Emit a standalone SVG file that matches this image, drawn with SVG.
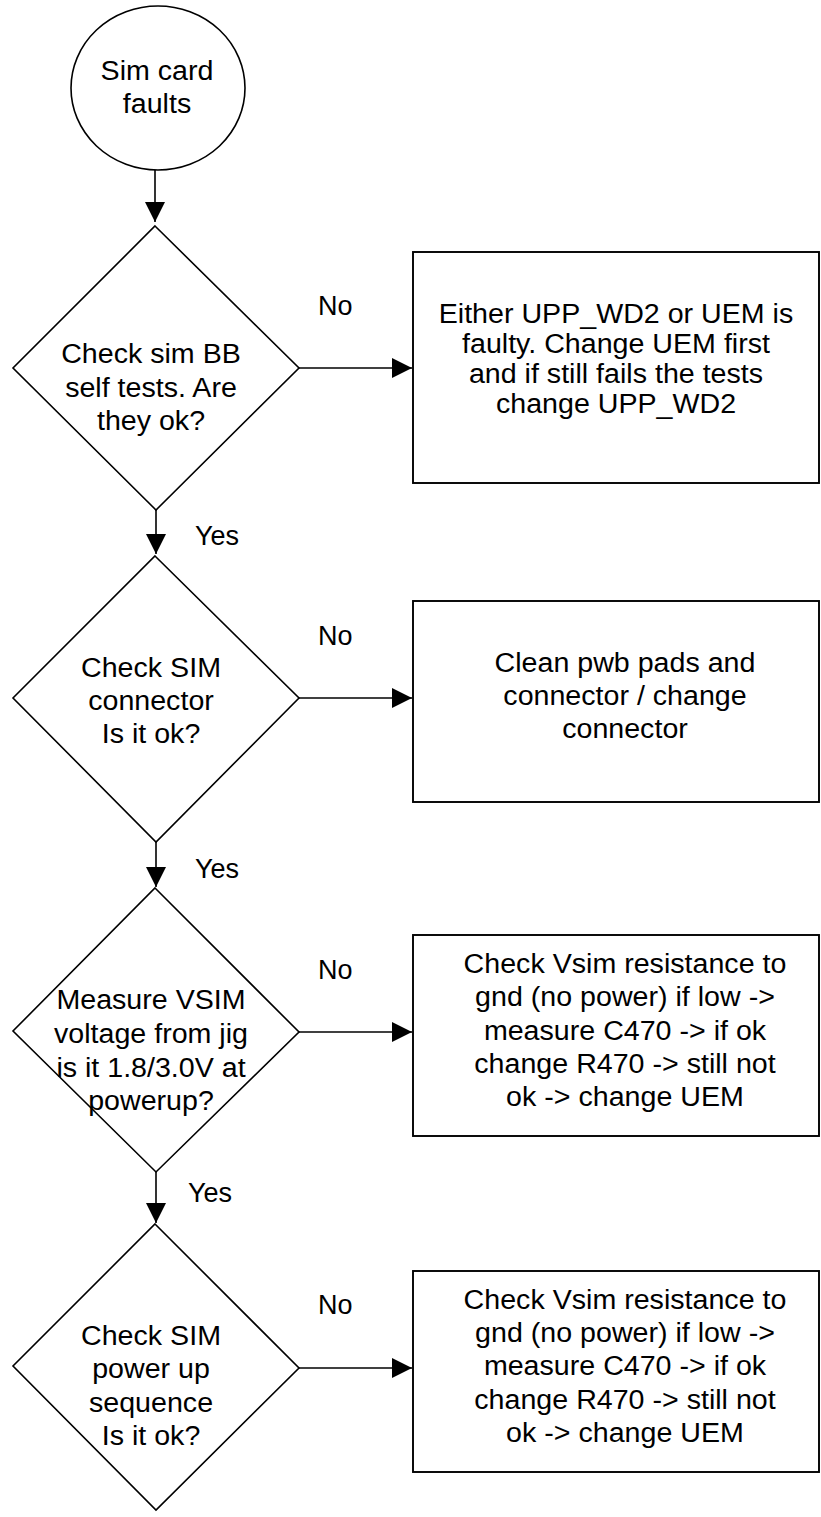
<svg xmlns="http://www.w3.org/2000/svg" width="821" height="1517" viewBox="0 0 821 1517">
<style>
.s{fill:#fff;stroke:#000;stroke-width:1.6}
.b{fill:#fff;stroke:#000;stroke-width:1.9}
.c{fill:none;stroke:#000;stroke-width:1.6}
text{font-family:"Liberation Sans",Arial,sans-serif;font-size:27px;fill:#000}
.m{text-anchor:middle}
</style>
<defs>
<marker id="ah" markerUnits="userSpaceOnUse" markerWidth="21" markerHeight="21" refX="20" refY="10" orient="auto">
<path d="M0,0 L20,10 L0,20 z" fill="#000"/>
</marker>
</defs>
<rect width="821" height="1517" fill="#fff"/>
<g id="start">
<ellipse class="s" cx="158" cy="88" rx="87" ry="82"/>
<text class="m" transform="translate(157,80) scale(1.06,1)">Sim card</text>
<text class="m" transform="translate(157,113) scale(1.06,1)">faults</text>
</g>
<g id="d1">
<polygon class="s" points="155,226 299,368 156,510 13,368"/>
<text class="m" transform="translate(151,363) scale(1.06,1)">Check sim BB</text>
<text class="m" transform="translate(151,396.5) scale(1.06,1)">self tests. Are</text>
<text class="m" transform="translate(151,430) scale(1.06,1)">they ok?</text>
</g>
<g id="b1">
<rect class="b" x="413" y="252" width="406" height="231"/>
<text class="m" transform="translate(616,323) scale(1.06,1)">Either UPP_WD2 or UEM is</text>
<text class="m" transform="translate(616,353) scale(1.06,1)">faulty. Change UEM first</text>
<text class="m" transform="translate(616,383) scale(1.06,1)">and if still fails the tests</text>
<text class="m" transform="translate(616,413) scale(1.06,1)">change UPP_WD2</text>
</g>
<g id="d2">
<polygon class="s" points="155,556 299,698 156,842 13,698"/>
<text class="m" transform="translate(151,677) scale(1.06,1)">Check SIM</text>
<text class="m" transform="translate(151,710) scale(1.06,1)">connector</text>
<text class="m" transform="translate(151,743) scale(1.06,1)">Is it ok?</text>
</g>
<g id="b2">
<rect class="b" x="413" y="601" width="406" height="201"/>
<text class="m" transform="translate(625,672) scale(1.06,1)">Clean pwb pads and</text>
<text class="m" transform="translate(625,705) scale(1.06,1)">connector / change</text>
<text class="m" transform="translate(625,738) scale(1.06,1)">connector</text>
</g>
<g id="d3">
<polygon class="s" points="155,888 299,1032 156,1172 13,1031"/>
<text class="m" transform="translate(151,1009) scale(1.06,1)">Measure VSIM</text>
<text class="m" transform="translate(151,1043) scale(1.06,1)">voltage from jig</text>
<text class="m" transform="translate(151,1076.5) scale(1.06,1)">is it 1.8/3.0V at</text>
<text class="m" transform="translate(151,1110) scale(1.06,1)">powerup?</text>
</g>
<g id="b3">
<rect class="b" x="413" y="935" width="406" height="201"/>
<text class="m" transform="translate(625,973) scale(1.06,1)">Check Vsim resistance to</text>
<text class="m" transform="translate(625,1006) scale(1.06,1)">gnd (no power) if low -&gt;</text>
<text class="m" transform="translate(625,1039.5) scale(1.06,1)">measure C470 -&gt; if ok</text>
<text class="m" transform="translate(625,1073) scale(1.06,1)">change R470 -&gt; still not</text>
<text class="m" transform="translate(625,1106) scale(1.06,1)">ok -&gt; change UEM</text>
</g>
<g id="d4">
<polygon class="s" points="155,1224 299,1368 156,1510 13,1366"/>
<text class="m" transform="translate(151,1345) scale(1.06,1)">Check SIM</text>
<text class="m" transform="translate(151,1378.3) scale(1.06,1)">power up</text>
<text class="m" transform="translate(151,1411.7) scale(1.06,1)">sequence</text>
<text class="m" transform="translate(151,1445) scale(1.06,1)">Is it ok?</text>
</g>
<g id="b4">
<rect class="b" x="413" y="1271" width="406" height="201"/>
<text class="m" transform="translate(625,1308.5) scale(1.06,1)">Check Vsim resistance to</text>
<text class="m" transform="translate(625,1341.5) scale(1.06,1)">gnd (no power) if low -&gt;</text>
<text class="m" transform="translate(625,1375) scale(1.06,1)">measure C470 -&gt; if ok</text>
<text class="m" transform="translate(625,1408.5) scale(1.06,1)">change R470 -&gt; still not</text>
<text class="m" transform="translate(625,1441.5) scale(1.06,1)">ok -&gt; change UEM</text>
</g>
<g id="connectors">
<line class="c" x1="155" y1="170" x2="155" y2="222" marker-end="url(#ah)"/>
<line class="c" x1="156" y1="510" x2="156" y2="554" marker-end="url(#ah)"/>
<line class="c" x1="156" y1="842" x2="156" y2="887" marker-end="url(#ah)"/>
<line class="c" x1="156" y1="1172" x2="156" y2="1223" marker-end="url(#ah)"/>
<line class="c" x1="299" y1="368" x2="412" y2="368" marker-end="url(#ah)"/>
<line class="c" x1="299" y1="698" x2="412" y2="698" marker-end="url(#ah)"/>
<line class="c" x1="299" y1="1032" x2="412" y2="1032" marker-end="url(#ah)"/>
<line class="c" x1="299" y1="1368" x2="412" y2="1368" marker-end="url(#ah)"/>
<text transform="translate(318,315)">No</text>
<text transform="translate(318,645)">No</text>
<text transform="translate(318,979)">No</text>
<text transform="translate(318,1314)">No</text>
<text transform="translate(195,545)">Yes</text>
<text transform="translate(195,878)">Yes</text>
<text transform="translate(188,1202)">Yes</text>
</g>
</svg>
